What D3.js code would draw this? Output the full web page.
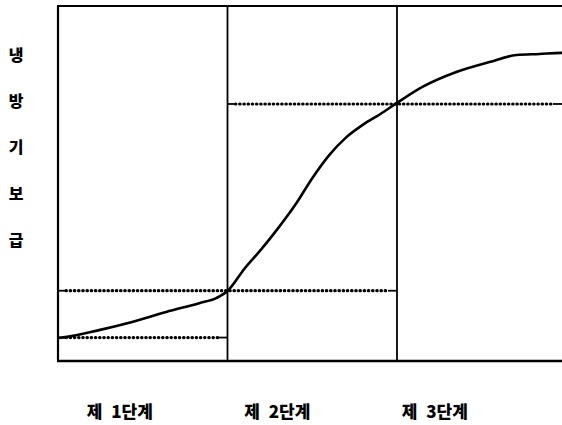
<!DOCTYPE html>
<html><head><meta charset="utf-8">
<script src="https://cdn.jsdelivr.net/npm/d3@7"></script>
<style>html,body{margin:0;padding:0;background:#fff;}svg{display:block;}</style>
</head><body>
<svg id="c" width="562" height="425"></svg>
<script>
// ---- data ----
const stages = ["제 1단계", "제 2단계", "제 3단계"];
const yLabelChars = ["냉", "방", "기", "보", "급"];
// curve: x in stage units (0..3), y in level units (0..100)
const curveX = [0, 0.053, 0.242, 0.437, 0.638, 0.833, 0.933, 1.0, 1.1, 1.2, 1.3, 1.4, 1.5, 1.6, 1.7, 1.8, 1.9, 2.0, 2.15, 2.35, 2.545, 2.705, 2.84, 2.97, 3.0];
const curveY = [6.5, 6.8, 8.7, 11.0, 13.8, 16.3, 17.7, 19.7, 26.0, 31.5, 37.5, 44.0, 51.5, 58.0, 63.0, 66.6, 69.5, 72.7, 77.2, 81.4, 84.2, 86.2, 86.5, 86.8, 86.8];
// dotted reference levels
const levelY = [6.6, 19.8, 72.4];
const levelFrom = [0, 0, 1];
const levelTo = [1, 2, 3];

// ---- drawing ----
const svg = d3.select("#c");
const x = d3.scaleLinear().domain([0, 3]).range([58, 566.5]);
const y = d3.scaleLinear().domain([0, 100]).range([361, 6]);

const g = svg.append("g");
// frame
g.append("line").attr("x1", x(0) - 1).attr("x2", 562).attr("y1", y(100)).attr("y2", y(100))
  .attr("stroke", "#000").attr("stroke-width", 2.2);
g.append("line").attr("x1", x(0) - 1).attr("x2", 562).attr("y1", y(0)).attr("y2", y(0))
  .attr("stroke", "#000").attr("stroke-width", 2.4);
[0, 1, 2].forEach(i => {
  g.append("line").attr("x1", x(i)).attr("x2", x(i)).attr("y1", y(100)).attr("y2", y(0))
    .attr("stroke", "#000").attr("stroke-width", i === 0 ? 2.2 : 1.8);
});

// dotted levels
levelY.forEach((v, i) => {
  const x1 = x(levelFrom[i]), x2 = Math.min(x(levelTo[i]), 562), yy = y(v);
  g.append("line").attr("x1", x1 + 8).attr("x2", x2 - 8).attr("y1", yy).attr("y2", yy)
    .attr("stroke", "#000").attr("stroke-width", 3.2)
    .attr("stroke-linecap", "round").attr("stroke-dasharray", "0.4,3.8");
  g.append("line").attr("x1", x1).attr("x2", x1 + 7).attr("y1", yy).attr("y2", yy)
    .attr("stroke", "#000").attr("stroke-width", 1.8);
  g.append("line").attr("x1", x2 - 9).attr("x2", x2).attr("y1", yy).attr("y2", yy)
    .attr("stroke", "#000").attr("stroke-width", 1.8);
});

// curve
const pts = curveX.map((d, i) => [d, curveY[i]]);
const line = d3.line().x(d => x(d[0])).y(d => y(d[1])).curve(d3.curveMonotoneX);
g.append("path").attr("d", line(pts)).attr("fill", "none")
  .attr("stroke", "#000").attr("stroke-width", 2.6).attr("stroke-linejoin", "round");

// y label (vertical characters)
svg.append("g").selectAll("text").data(yLabelChars).join("text")
  .attr("x", 16).attr("y", (d, i) => 54 + i * 46.2)
  .attr("text-anchor", "middle").attr("dominant-baseline", "central")
  .attr("font-family", "'Noto Sans CJK KR', sans-serif").attr("font-weight", 900)
  .attr("font-size", 16).attr("fill", "#000").text(d => d);

// stage labels
svg.append("g").selectAll("text").data(stages).join("text")
  .attr("x", (d, i) => x(i + 0.5) - 23 - i * 12).attr("y", 410)
  .attr("text-anchor", "middle").attr("dominant-baseline", "central")
  .attr("font-family", "'Noto Sans CJK KR', sans-serif").attr("font-weight", 900)
  .attr("font-size", 17).attr("word-spacing", 5).attr("fill", "#000").text(d => d);
</script>
</body></html>
